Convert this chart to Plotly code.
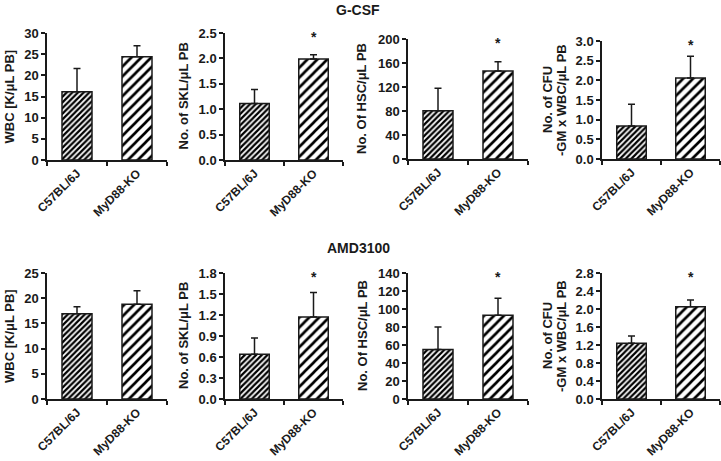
import plotly.graph_objects as go

# ---------------- data ----------------
groups = ["C57BL/6J", "MyD88-KO"]

gcsf_wbc = [16.1, 24.4]
gcsf_wbc_err = [5.5, 2.6]
gcsf_skl = [1.11, 1.99]
gcsf_skl_err = [0.28, 0.08]
gcsf_hsc = [80.5, 146.7]
gcsf_hsc_err = [37.5, 15.5]
gcsf_cfu = [0.84, 2.06]
gcsf_cfu_err = [0.55, 0.55]

amd_wbc = [16.9, 18.8]
amd_wbc_err = [1.4, 2.7]
amd_skl = [0.64, 1.17]
amd_skl_err = [0.23, 0.35]
amd_hsc = [55, 93]
amd_hsc_err = [25, 19]
amd_cfu = [1.24, 2.05]
amd_cfu_err = [0.16, 0.15]

sig_none = ["", ""]
sig_ko = ["", "*"]

y_titles = ["WBC [K/μL PB]", "No. of SKL/μL PB", "No. Of HSC/μL PB",
            "No. of CFU<br>-GM x WBC/μL PB"]
row_titles = ["G-CSF", "AMD3100"]

panels = [
    (gcsf_wbc, gcsf_wbc_err, sig_none, 30, 5, ".0f"),
    (gcsf_skl, gcsf_skl_err, sig_ko, 2.5, 0.5, ".1f"),
    (gcsf_hsc, gcsf_hsc_err, sig_ko, 200, 40, ".0f"),
    (gcsf_cfu, gcsf_cfu_err, sig_ko, 3.0, 0.5, ".1f"),
    (amd_wbc, amd_wbc_err, sig_none, 25, 5, ".0f"),
    (amd_skl, amd_skl_err, sig_ko, 1.8, 0.3, ".1f"),
    (amd_hsc, amd_hsc_err, sig_ko, 140, 20, ".0f"),
    (amd_cfu, amd_cfu_err, sig_ko, 2.8, 0.4, ".1f"),
]

# ---------------- layout geometry (pixels) ----------------
W, H = 721, 461
x_px = [(47, 167), (225, 343), (408, 528), (602, 720)]
top_y_px = [(33, 160), (33, 160), (39, 159), (41, 159)]
bot_y_px = [(273, 399)] * 4
title_x_px = [[9], [183], [362], [547, 561]]

FONT = "Liberation Sans, Arial, sans-serif"
INK = "#1a1a1a"

fig = go.Figure()
layout = dict(
    template="none",
    width=W, height=H, margin=dict(l=0, r=0, t=0, b=0, pad=0),
    paper_bgcolor="white", plot_bgcolor="white", showlegend=False,
    font=dict(family=FONT, color=INK, size=13),
    barmode="overlay",
)
annotations = []

patterns = [
    dict(shape="/", size=4, solidity=0.55, fgcolor="#000000", bgcolor="white"),
    dict(shape="/", size=7, solidity=0.38, fgcolor="#000000", bgcolor="white"),
]

for i, (vals, errs, sig, ymax, dtick, fmt) in enumerate(panels):
    row, col = divmod(i, 4)
    n = i + 1
    xa = "x" if n == 1 else f"x{n}"
    ya = "y" if n == 1 else f"y{n}"
    x0, x1 = x_px[col]
    ytop, ybot = (top_y_px if row == 0 else bot_y_px)[col]

    for g in range(2):
        fig.add_trace(go.Bar(
            x=[groups[g]], y=[vals[g]], xaxis=xa, yaxis=ya, width=0.5,
            marker=dict(color="white", line=dict(color=INK, width=1.5),
                        pattern=patterns[g]),
            error_y=dict(type="data", symmetric=False, array=[errs[g]],
                         arrayminus=[0], color=INK, thickness=1.5, width=3.5),
        ))

    layout["xaxis" if n == 1 else f"xaxis{n}"] = dict(
        domain=[x0 / W, x1 / W], anchor=ya, type="category",
        categoryorder="array", categoryarray=groups, range=[-0.5, 1.5],
        showline=True, linecolor=INK, linewidth=1.5,
        ticks="outside", ticklen=4, tickwidth=1.5, tickcolor=INK,
        tickson="boundaries", tickangle=-45, automargin=False,
        tickfont=dict(size=12, family=FONT, color=INK, weight="bold"),
        showgrid=False, zeroline=False, fixedrange=True,
    )
    layout["yaxis" if n == 1 else f"yaxis{n}"] = dict(
        domain=[1 - ybot / H, 1 - ytop / H], anchor=xa,
        range=[0, ymax], dtick=dtick, tick0=0, tickformat=fmt,
        showline=True, linecolor=INK, linewidth=1.5, automargin=False,
        ticks="outside", ticklen=4, tickwidth=1.5, tickcolor=INK,
        tickfont=dict(size=13, family=FONT, color=INK, weight="bold"),
        showgrid=False, zeroline=False, fixedrange=True,
    )

    # significance stars
    for g in range(2):
        if sig[g]:
            annotations.append(dict(
                x=groups[g], xref=xa, y=0.97, yref=f"{ya} domain",
                text=sig[g], showarrow=False, yanchor="middle",
                font=dict(size=14, family=FONT, color=INK, weight="bold")))

    # y-axis titles
    lines = y_titles[col].split("<br>")
    for li, txt in enumerate(lines):
        annotations.append(dict(
            x=title_x_px[col][li] / W, xref="paper",
            y=1 - (ytop + ybot) / 2 / H, yref="paper",
            text=txt, textangle=-90, showarrow=False,
            xanchor="center", yanchor="middle",
            font=dict(size=13, family=FONT, color=INK, weight="bold")))

# row titles
for r, (t, ypx) in enumerate(zip(row_titles, [10, 248])):
    annotations.append(dict(
        x=358 / W, xref="paper", y=1 - ypx / H, yref="paper", text=t,
        showarrow=False, xanchor="center", yanchor="middle",
        font=dict(size=14, family=FONT, color=INK, weight="bold")))

layout["annotations"] = annotations
fig.update_layout(**layout)
fig.write_html(
    "out.html",
    config={"displayModeBar": False},
    post_script="document.body.style.margin='0';document.body.style.overflow='hidden';",
)
